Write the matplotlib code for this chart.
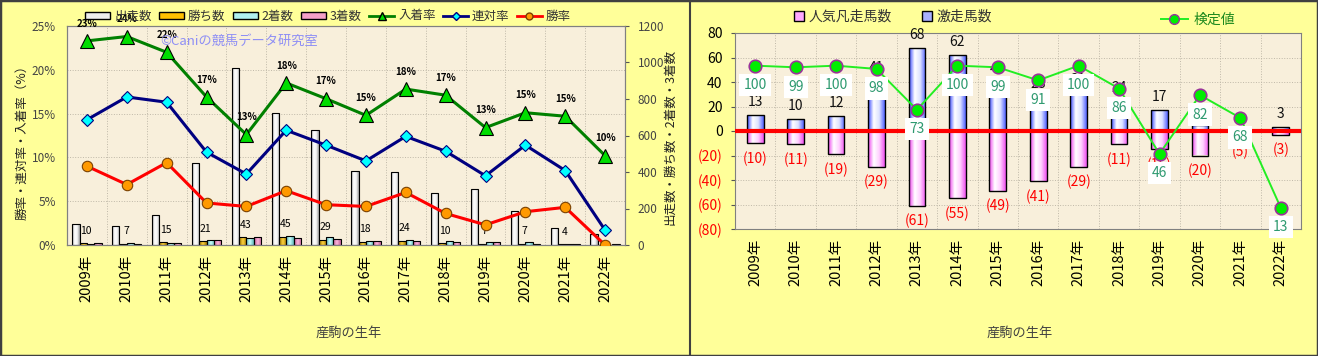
import numpy as np
import matplotlib
matplotlib.use('Agg')
import matplotlib.pyplot as plt
from matplotlib.colors import LinearSegmentedColormap
from matplotlib.patches import Patch, Rectangle
from matplotlib.lines import Line2D

plt.rcParams['font.family'] = ['Noto Sans CJK JP', 'DejaVu Sans']

# ---- data ----
years = ['2009年', '2010年', '2011年', '2012年', '2013年', '2014年', '2015年',
         '2016年', '2017年', '2018年', '2019年', '2020年', '2021年', '2022年']

# left chart: counts (right axis)
runs = [113, 104, 164, 448, 971, 722, 630, 407, 402, 287, 305, 186, 95, 60]
wins = [10, 7, 15, 21, 43, 45, 29, 18, 24, 10, 7, 7, 4, 0]
seconds = [6, 11, 12, 27, 36, 50, 43, 21, 26, 21, 17, 14, 4, 1]
thirds = [10, 7, 9, 28, 44, 39, 33, 21, 22, 18, 17, 7, 6, 5]

# left chart: rates in % (left axis)
place_rate = [23.3, 23.8, 22.0, 16.9, 12.6, 18.5, 16.7, 14.8, 17.8, 17.1, 13.4, 15.1, 14.7, 10.2]
quinella_rate = [14.3, 16.9, 16.3, 10.6, 8.1, 13.1, 11.4, 9.6, 12.4, 10.7, 7.9, 11.4, 8.5, 1.7]
win_rate = [9.0, 6.9, 9.4, 4.8, 4.4, 6.2, 4.6, 4.4, 6.0, 3.6, 2.3, 3.8, 4.3, 0.0]
place_labels = ['23%', '24%', '22%', '17%', '13%', '18%', '17%', '15%',
                '18%', '17%', '13%', '15%', '15%', '10%']

# right chart
hit_counts = [13, 10, 12, 41, 68, 62, 40, 28, 31, 24, 17, 5, 0, 3]      # 激走馬数
flop_counts = [10, 11, 19, 29, 61, 55, 49, 41, 29, 11, 15, 20, 5, 3]    # 人気凡走馬数
test_values = [100, 99, 100, 98, 73, 100, 99, 91, 100, 86, 46, 82, 68, 13]  # 検定値

pct_ticks = [0, 5, 10, 15, 20, 25]
count_ticks = [0, 200, 400, 600, 800, 1000, 1200]
right_ticks = [-80, -60, -40, -20, 0, 20, 40, 60, 80]

W, H = 1318, 356
BG = '#FFFF99'
PLOT_BG = '#F8EFDB'
GRID = '#BFB8A8'


def px(x0, y0, x1, y1):
    return [x0 / W, 1 - y1 / H, (x1 - x0) / W, (y1 - y0) / H]


def shade_bars(ax, bars, colors):
    # horizontal gradient fill like the excel bars
    cmap = LinearSegmentedColormap.from_list('shade', colors)
    grad = np.linspace(0, 1, 64).reshape(1, -1)
    for b in bars:
        x0, y0 = b.get_xy()
        w, h = b.get_width(), b.get_height()
        if h == 0:
            continue
        im = ax.imshow(grad, cmap=cmap, extent=(x0, x0 + w, y0, y0 + h),
                       aspect='auto', interpolation='bilinear',
                       zorder=b.get_zorder() - 0.1)
        im.set_clip_path(b)
        b.set_facecolor('none')


fig = plt.figure(figsize=(W / 100, H / 100), dpi=100)
fig.patch.set_facecolor(BG)

n = len(years)
x = np.arange(n)

# =================== left chart ===================
axL = fig.add_axes(px(67, 26, 625, 245))
axL.set_facecolor(PLOT_BG)
bw = 0.183
bar_specs = [
    (runs, ['#9A9A9A', '#FFFFFF', '#F4F4F4', '#9A9A9A']),
    (wins, ['#A07800', '#FFD23C', '#A07800']),
    (seconds, ['#5FB5B5', '#C8FFFF', '#5FB5B5']),
    (thirds, ['#C0609A', '#FFB8DC', '#C0609A']),
]
for k, (vals, cols) in enumerate(bar_specs):
    bars = axL.bar(x + (k - 1.5) * bw, vals, bw, edgecolor='black', lw=0.8, zorder=2)
    shade_bars(axL, bars, cols)

axL.set_xlim(-0.5, n - 0.5)
axL.set_ylim(0, 1200)
for k in range(n - 1):
    axL.axvline(k + 0.5, color=GRID, lw=0.7, ls=':', zorder=0.5)
for p in pct_ticks[1:-1]:
    axL.axhline(p * 1200 / 25, color=GRID, lw=0.7, ls=':', zorder=0.5)

for i, w in enumerate(wins):
    if w > 0:
        axL.annotate(str(w), (x[i] - 0.5 * bw, w), xytext=(2, 9), textcoords='offset points',
                     ha='center', va='center', fontsize=7.5, zorder=5)

axP = axL.twinx()
axL.yaxis.tick_right()
axP.yaxis.tick_left()
axP.set_ylim(0, 25)
axP.set_xlim(-0.5, n - 0.5)
axP.patch.set_visible(False)

axP.plot(x, place_rate, color='#008000', lw=2.2, marker='^', ms=10,
         mfc='#00DD00', mec='black', mew=0.8, zorder=4)
axP.plot(x, quinella_rate, color='#000080', lw=2.2, marker='D', ms=6,
         mfc='#00FFFF', mec='#000080', mew=0.8, zorder=4)
axP.plot(x, win_rate, color='#FF0000', lw=2.2, marker='o', ms=7.5,
         mfc='#FF9900', mec='#7A4000', mew=0.8, zorder=4)
for i, v in enumerate(place_rate):
    axP.annotate(place_labels[i], (x[i], v), xytext=(0, 12.5), textcoords='offset points',
                 ha='center', va='center', fontsize=7, fontweight='bold', zorder=6)

axP.text(0.168, 0.93, '©Caniの競馬データ研究室', transform=axP.transAxes,
         color='#8E8EF5', fontsize=9.5, va='center', ha='left', zorder=6)

axP.set_yticks(pct_ticks, [f'{p}%' for p in pct_ticks])
axL.set_yticks(count_ticks, [str(c) for c in count_ticks])
axL.set_xticks(x, years, rotation=90)
axL.tick_params(axis='x', length=0, pad=7, labelsize=10.5, labelcolor='black')
axL.tick_params(axis='y', length=3, pad=6, labelsize=8.5, labelcolor='#444444', color='#555555')
axP.tick_params(axis='y', length=0, pad=8, labelsize=8.5, labelcolor='#444444')
for ax in (axL, axP):
    for s in ax.spines.values():
        s.set_color('#808080')

fig.text(22 / W, 1 - 139 / H, '勝率・連対率・入着率（%）', rotation=90,
         ha='center', va='center', fontsize=9, color='#222222')
fig.text(670 / W, 1 - 137 / H, '出走数・勝ち数・2着数・3着数', rotation=90,
         ha='center', va='center', fontsize=9, color='#222222')
fig.text(349 / W, 1 - 333 / H, '産駒の生年', ha='center', va='center',
         fontsize=9.5, color='#404040')

left_handles = [
    Patch(fc='#EEEEEE', ec='black', label='出走数'),
    Patch(fc='#FFC000', ec='black', label='勝ち数'),
    Patch(fc='#B0F0F0', ec='black', label='2着数'),
    Patch(fc='#F5A0C8', ec='black', label='3着数'),
    Line2D([], [], color='#008000', lw=2, marker='^', ms=6, mfc='#00DD00', mec='black', label='入着率'),
    Line2D([], [], color='#000080', lw=2, marker='D', ms=4, mfc='#00FFFF', mec='#000080', label='連対率'),
    Line2D([], [], color='#FF0000', lw=2, marker='o', ms=5, mfc='#FF9900', mec='#7A4000', label='勝率'),
]
legL = fig.legend(handles=left_handles, loc='center', bbox_to_anchor=(328 / W, 1 - 16 / H),
                  ncol=7, frameon=False, fontsize=9, handlelength=2.0, handleheight=0.5,
                  handletextpad=0.3, columnspacing=0.6, labelcolor='#333333')

# =================== right chart ===================
axR = fig.add_axes(px(735, 33, 1301, 229))
axR.set_facecolor(PLOT_BG)
rw = 0.41
hit_bars = axR.bar(x, hit_counts, rw, edgecolor='black', lw=1.0, zorder=2)
shade_bars(axR, hit_bars, ['#3848FF', '#FFFFFF', '#DDE2FF', '#5060FF'])
flop_bars = axR.bar(x, [-v for v in flop_counts], rw, edgecolor='black', lw=1.0, zorder=2)
shade_bars(axR, flop_bars, ['#F040F0', '#FFFFFF', '#FFD0FF', '#F050F0'])

axR.set_xlim(-0.5, n - 0.5)
axR.set_ylim(-80, 80)
for k in range(n - 1):
    axR.axvline(k + 0.5, color=GRID, lw=0.7, ls=':', zorder=0.5)
for t in right_ticks[1:-1]:
    axR.axhline(t, color=GRID, lw=0.7, ls=':', zorder=0.5)
axR.axhline(0, color='#FF0000', lw=3, zorder=4)

for i, v in enumerate(hit_counts):
    if v > 0:
        axR.annotate(str(v), (x[i], v), xytext=(0, 9.5), textcoords='offset points',
                     ha='center', va='center', fontsize=10, color='#111111', zorder=5)
for i, v in enumerate(flop_counts):
    axR.annotate(f'({v})', (x[i], -v), xytext=(0, -11), textcoords='offset points',
                 ha='center', va='center', fontsize=10, color='#FF0000', zorder=5)

axR.set_yticks(right_ticks, [f'({-t})' if t < 0 else str(t) for t in right_ticks])
for t, lab in zip(right_ticks, axR.get_yticklabels()):
    lab.set_color('#FF0000' if t < 0 else 'black')
axR.set_xticks(x, years, rotation=90)
axR.tick_params(axis='x', length=0, pad=7, labelsize=10.5)
axR.tick_params(axis='y', length=3, pad=6, labelsize=10, color='#555555')
for s in axR.spines.values():
    s.set_color('#808080')

axT = axR.twinx()
axT.set_ylim(0, 120)
axT.set_xlim(-0.5, n - 0.5)
axT.set_axis_off()
axT.plot(x, test_values, color='#22EE22', lw=1.4, marker='o', ms=9,
         mfc='#00EE00', mec='#993399', mew=1.2, zorder=3)
for i, v in enumerate(test_values):
    axT.annotate(str(v), (x[i], v), xytext=(0, -14), textcoords='offset points',
                 ha='center', va='center', fontsize=10, color='#2E9A70', zorder=4,
                 bbox=dict(boxstyle='square,pad=0.3', fc='white', ec='none'))

fig.text(1020 / W, 1 - 333 / H, '産駒の生年', ha='center', va='center',
         fontsize=9.5, color='#404040')

right_handles = [
    Patch(fc='#FFA8FF', ec='black', label='人気凡走馬数'),
    Patch(fc='#A8B0FF', ec='black', label='激走馬数'),
]
fig.legend(handles=right_handles, loc='center', bbox_to_anchor=(893 / W, 1 - 17 / H),
           ncol=2, frameon=False, fontsize=10, handlelength=0.7, handleheight=0.7,
           handletextpad=0.3, columnspacing=2.2, labelcolor='#333333')
fig.legend(handles=[Line2D([], [], color='#22EE22', lw=1.4, marker='o', ms=7,
                           mfc='#00EE00', mec='#993399', label='検定値')],
           loc='center', bbox_to_anchor=(1198 / W, 1 - 20 / H), frameon=False,
           fontsize=10, handlelength=2.0, handletextpad=0.4, labelcolor='#1E8A1E')

# frames round the two panels
fig.add_artist(Rectangle((0, 0), 1, 1, transform=fig.transFigure, fill=False,
                         ec='#404040', lw=2.5))
fig.add_artist(Line2D([690 / W, 690 / W], [0, 1], transform=fig.transFigure,
                      color='#404040', lw=1.5))

fig.savefig('out.png', dpi=100, facecolor=fig.get_facecolor())
